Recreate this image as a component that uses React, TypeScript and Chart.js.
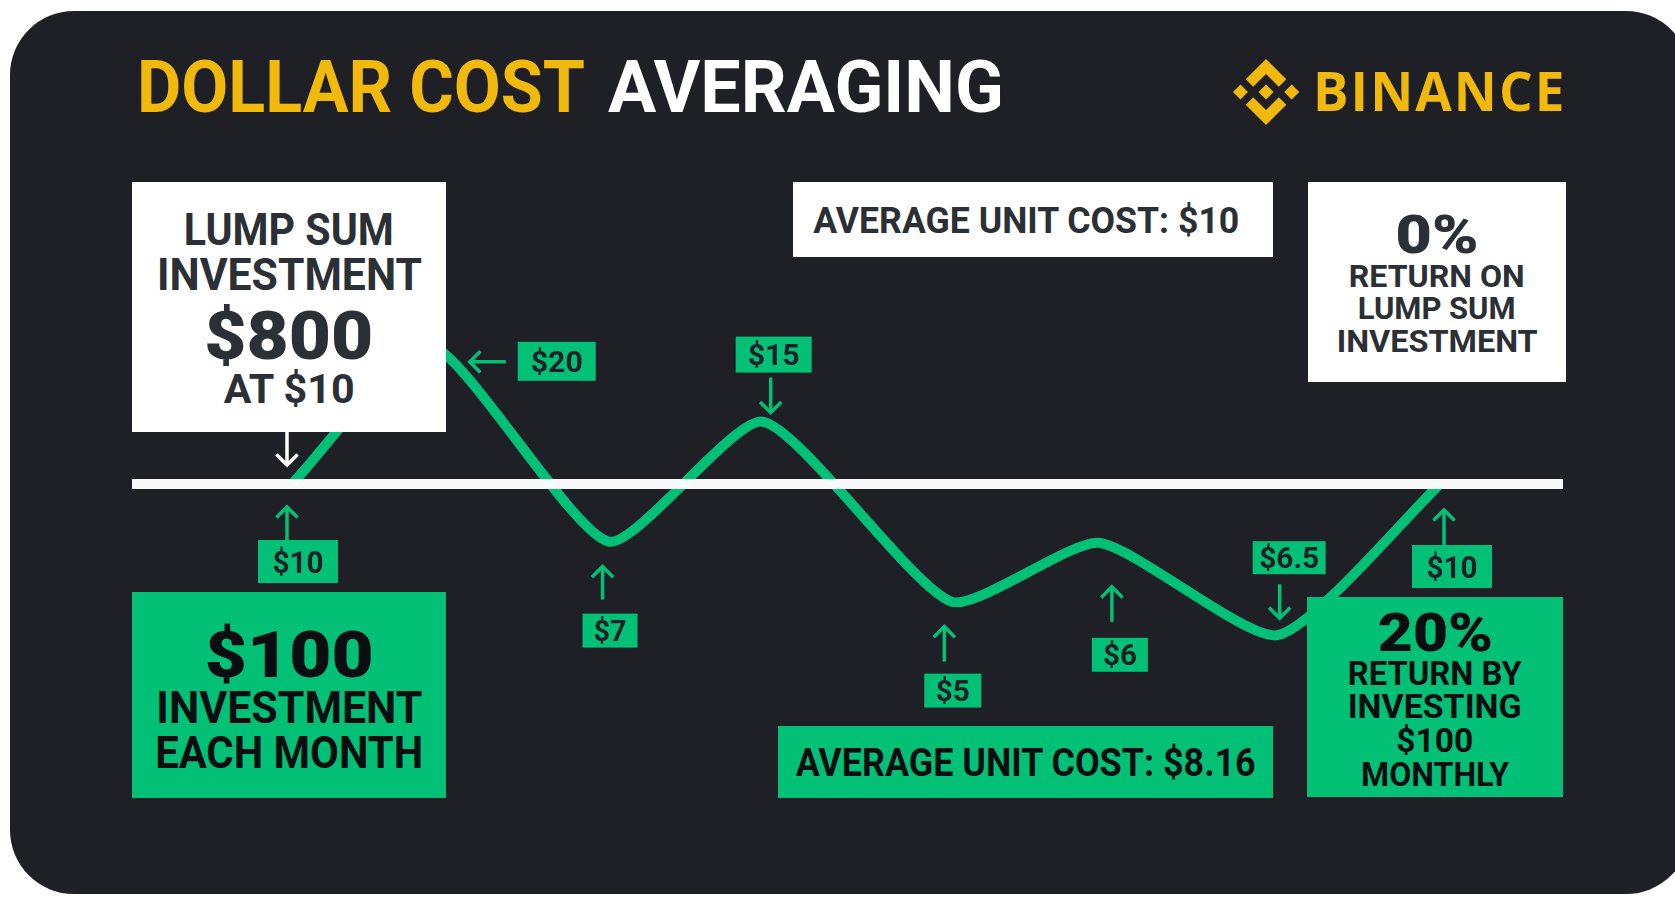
import React, { useEffect, useRef } from 'react';
import { Chart, registerables } from 'chart.js';

Chart.register(...registerables);

// ---------- data ----------
// horizontal position of each turning point (in months)
const months = [1, 1.84, 2.93, 3.87, 5.02, 5.92, 7.01, 8];
// drawn height of the price path (baseline = 10, the lump-sum price line)
const curveLevel = [10, 21.6, 5.2, 15.2, 0.2, 5.1, -2.6, 10];
// price tags at each point
const priceLabels = ['$10', '$20', '$7', '$15', '$5', '$6', '$6.5', '$10'];
const lumpSumPrice = 10;

const titleYellow = 'DOLLAR COST';
const titleWhite = 'AVERAGING';
const brand = 'BINANCE';
const lumpSumLines = ['LUMP SUM', 'INVESTMENT', '$800', 'AT $10'];
const lumpAvgText = 'AVERAGE UNIT COST: $10';
const lumpReturnLines = ['0%', 'RETURN ON', 'LUMP SUM', 'INVESTMENT'];
const dcaLines = ['$100', 'INVESTMENT', 'EACH MONTH'];
const dcaAvgText = 'AVERAGE UNIT COST: $8.16';
const dcaReturnLines = ['20%', 'RETURN BY', 'INVESTING', '$100', 'MONTHLY'];

// ---------- styles / layout ----------
const W = 1675;
const H = 897;
const BG = '#1f2026';
const GREEN = '#02c076';
const YELLOW = '#f0b90b';
const DARK = '#2b2f36';
const BLACK = '#0b0e11';
const FONT = 'Roboto, "Noto Sans", "DejaVu Sans", sans-serif';

const X_MIN = -0.7805;
const X_MAX = 9.4329;
const Y_MIN = -24.417;
const Y_MAX = 50.333;
const BASE_LEFT = 132;
const BASE_RIGHT = 1563;

// arrow tail/tip and tag centre offsets relative to each point (pixels), tag size, text width
const tagLayout = [
  { tail: [-5, 56], tip: [-5, 23], c: [6, 77.5], w: 80, h: 43, f: 31, tw: 51 },
  { tail: [76, 17], tip: [40, 17], c: [127, 16.5], w: 78, h: 39, f: 30, tw: 52 },
  { tail: [-6, 58], tip: [-6, 25], c: [1.5, 89], w: 55, h: 34, f: 30, tw: 33 },
  { tail: [8, -44], tip: [8, -9], c: [11, -67], w: 76, h: 36, f: 30, tw: 52 },
  { tail: [-7, 60], tip: [-7, 25], c: [1.5, 89], w: 57, h: 34, f: 30, tw: 34 },
  { tail: [13, 79], tip: [13, 44], c: [21, 112], w: 56, h: 34, f: 30, tw: 34 },
  { tail: [2, -51], tip: [2, -17], c: [11.5, -77.5], w: 73, h: 33, f: 30, tw: 60 },
  { tail: [4, 61], tip: [4, 26], c: [12, 82.5], w: 80, h: 43, f: 31, tw: 51 },
];

let measureCtx: CanvasRenderingContext2D | null = null;
function textWidth(text: string, size: number, weight: number, family: string) {
  if (!measureCtx) measureCtx = document.createElement('canvas').getContext('2d');
  if (!measureCtx) return 1;
  measureCtx.font = `${weight} ${size}px ${family}`;
  return measureCtx.measureText(text).width || 1;
}

function drawArrow(ctx: CanvasRenderingContext2D, x1: number, y1: number, x2: number, y2: number, color: string) {
  const ang = Math.atan2(y2 - y1, x2 - x1);
  const head = 15;
  ctx.save();
  ctx.strokeStyle = color;
  ctx.lineWidth = 3.5;
  ctx.lineCap = 'butt';
  ctx.lineJoin = 'miter';
  ctx.beginPath();
  ctx.moveTo(x1, y1);
  ctx.lineTo(x2, y2);
  ctx.stroke();
  ctx.beginPath();
  ctx.moveTo(x2 - head * Math.cos(ang - Math.PI / 4), y2 - head * Math.sin(ang - Math.PI / 4));
  ctx.lineTo(x2, y2);
  ctx.lineTo(x2 - head * Math.cos(ang + Math.PI / 4), y2 - head * Math.sin(ang + Math.PI / 4));
  ctx.stroke();
  ctx.restore();
}

const overlayPlugin = {
  id: 'dcaOverlay',
  afterDatasetsDraw(chart: any) {
    const ctx: CanvasRenderingContext2D = chart.ctx;
    const meta = chart.getDatasetMeta(0);
    const yBase = chart.scales.y.getPixelForValue(lumpSumPrice);
    ctx.save();
    // lump-sum price line
    ctx.fillStyle = 'rgba(255,255,255,0.97)';
    ctx.fillRect(BASE_LEFT, yBase - 5, BASE_RIGHT - BASE_LEFT, 10);
    // white arrow from the lump-sum box down to the first purchase
    const p0 = meta.data[0];
    drawArrow(ctx, p0.x - 5, yBase - 52, p0.x - 5, yBase - 19, '#ffffff');
    meta.data.forEach((pt: any, i: number) => {
      const L = tagLayout[i];
      drawArrow(ctx, pt.x + L.tail[0], pt.y + L.tail[1], pt.x + L.tip[0], pt.y + L.tip[1], GREEN);
      const cx = pt.x + L.c[0];
      const cy = pt.y + L.c[1];
      ctx.fillStyle = GREEN;
      ctx.fillRect(cx - L.w / 2, cy - L.h / 2, L.w, L.h);
      ctx.fillStyle = '#1e2026';
      ctx.font = `700 ${L.f}px ${FONT}`;
      ctx.textAlign = 'center';
      ctx.textBaseline = 'alphabetic';
      const mw = ctx.measureText(priceLabels[i]).width || 1;
      ctx.save();
      ctx.translate(cx, cy + L.f * 0.355);
      ctx.scale(L.tw / mw, 1);
      ctx.fillText(priceLabels[i], 0, 0);
      ctx.restore();
    });
    ctx.restore();
  },
};

function FitText(props: { text: string; size: number; weight: number; width: number; family?: string; origin?: string }) {
  const fam = props.family ?? FONT;
  const k = props.width / textWidth(props.text, props.size, props.weight, fam);
  return (
    <span style={{ display: 'inline-block', transform: `scaleX(${k})`, transformOrigin: props.origin ?? 'center' }}>
      {props.text}
    </span>
  );
}

type LineSpec = { text: string; cy: number; size: number; tw: number; weight?: number; dx?: number };

function Box(props: { x: number; y: number; w: number; h: number; bg: string; color: string; lines: LineSpec[] }) {
  const { x, y, w, h, bg, color, lines } = props;
  return (
    <div style={{ position: 'absolute', left: x, top: y, width: w, height: h, background: bg }}>
      {lines.map((l, i) => (
        <div
          key={i}
          style={{
            position: 'absolute',
            left: l.dx ?? 0,
            width: w,
            top: l.cy - l.size * 0.487,
            height: l.size,
            lineHeight: `${l.size}px`,
            fontSize: l.size,
            fontWeight: l.weight ?? 700,
            fontFamily: FONT,
            color,
            textAlign: 'center',
            whiteSpace: 'nowrap',
          }}
        >
          <FitText text={l.text} size={l.size} weight={l.weight ?? 700} width={l.tw} />
        </div>
      ))}
    </div>
  );
}

function BinanceLogo() {
  return (
    <svg width={66} height={66} viewBox="0 0 126.61 126.61" style={{ position: 'absolute', left: 1233, top: 59 }}>
      <g fill={YELLOW}>
        <path d="m38.73 53.2 24.59-24.58 24.6 24.6 14.3-14.31-38.9-38.91-38.9 38.9z" />
        <path d="m0 63.31 14.3-14.31 14.31 14.31-14.31 14.3z" />
        <path d="m38.73 73.41 24.59 24.59 24.6-24.6 14.31 14.29-38.9 38.91-38.91-38.88-.02-.02z" />
        <path d="m98.28 63.31 14.3-14.31 14.31 14.3-14.31 14.32z" />
        <path d="m77.83 63.3-14.51-14.52-10.73 10.73-1.24 1.23-2.54 2.54 14.51 14.5 14.51-14.47z" />
      </g>
    </svg>
  );
}

export default function App() {
  const canvasRef = useRef<HTMLCanvasElement | null>(null);

  useEffect(() => {
    if (!canvasRef.current) return;
    const chart = new Chart(canvasRef.current, {
      type: 'line',
      data: {
        datasets: [
          {
            data: months.map((m, i) => ({ x: m, y: curveLevel[i] })),
            borderColor: GREEN,
            borderWidth: 10,
            tension: 0.19,
            pointRadius: 0,
            fill: false,
            borderCapStyle: 'butt',
            borderJoinStyle: 'round',
            clip: false,
          } as any,
        ],
      },
      options: {
        responsive: false,
        animation: false,
        events: [],
        layout: { padding: 0 },
        plugins: { legend: { display: false }, tooltip: { enabled: false }, title: { display: false } },
        scales: {
          x: { type: 'linear', display: false, min: X_MIN, max: X_MAX },
          y: { type: 'linear', display: false, min: Y_MIN, max: Y_MAX },
        },
      },
      plugins: [overlayPlugin],
    });
    return () => chart.destroy();
  }, []);

  const titleSize = 72;

  return (
    <div style={{ position: 'absolute', left: 0, top: 0, width: W, height: H, background: '#ffffff', overflow: 'hidden' }}>
      <div style={{ position: 'absolute', left: 10, top: 11, width: 1680, height: 883, background: BG, borderRadius: 64 }} />
      <canvas ref={canvasRef} width={W} height={H} style={{ position: 'absolute', left: 0, top: 0, width: W, height: H }} />
      <div
        style={{
          position: 'absolute',
          left: 137,
          top: 87.5 - titleSize * 0.487,
          fontFamily: FONT,
          fontWeight: 700,
          fontSize: titleSize,
          lineHeight: `${titleSize}px`,
          whiteSpace: 'nowrap',
          color: YELLOW,
        }}
      >
        <FitText text={titleYellow} size={titleSize} weight={700} width={448} origin="left" />
      </div>
      <div
        style={{
          position: 'absolute',
          left: 608,
          top: 87.5 - titleSize * 0.487,
          fontFamily: FONT,
          fontWeight: 700,
          fontSize: titleSize,
          lineHeight: `${titleSize}px`,
          whiteSpace: 'nowrap',
          color: '#ffffff',
        }}
      >
        <FitText text={titleWhite} size={titleSize} weight={700} width={396} origin="left" />
      </div>
      <BinanceLogo />
      <div
        style={{
          position: 'absolute',
          left: 1313,
          top: 92 - 53 * 0.53,
          fontFamily: '"Open Sans", sans-serif',
          fontWeight: 700,
          fontSize: 53,
          lineHeight: '53px',
          letterSpacing: 2,
          color: YELLOW,
          whiteSpace: 'nowrap',
        }}
      >
        {brand}
      </div>
      <Box
        x={132}
        y={182}
        w={314}
        h={250}
        bg="#ffffff"
        color={DARK}
        lines={[
          { text: lumpSumLines[0], cy: 47, size: 45, tw: 210 },
          { text: lumpSumLines[1], cy: 92, size: 45, tw: 265 },
          { text: lumpSumLines[2], cy: 154, size: 67, tw: 169, weight: 900 },
          { text: lumpSumLines[3], cy: 207, size: 41, tw: 132 },
        ]}
      />
      <Box x={793} y={182} w={480} h={75} bg="#ffffff" color={DARK} lines={[{ text: lumpAvgText, cy: 38, size: 37, tw: 427, dx: -7 }]} />
      <Box
        x={1308}
        y={182}
        w={258}
        h={200}
        bg="#ffffff"
        color={DARK}
        lines={[
          { text: lumpReturnLines[0], cy: 53, size: 53, tw: 83, weight: 900 },
          { text: lumpReturnLines[1], cy: 93.5, size: 32, tw: 176 },
          { text: lumpReturnLines[2], cy: 126, size: 32, tw: 158 },
          { text: lumpReturnLines[3], cy: 159, size: 32, tw: 201 },
        ]}
      />
      <Box
        x={132}
        y={592}
        w={314}
        h={206}
        bg={GREEN}
        color={BLACK}
        lines={[
          { text: dcaLines[0], cy: 63, size: 65, tw: 169, weight: 900 },
          { text: dcaLines[1], cy: 115.5, size: 44, tw: 266 },
          { text: dcaLines[2], cy: 160.5, size: 44, tw: 268 },
        ]}
      />
      <Box x={778} y={726} w={495} h={72} bg={GREEN} color={BLACK} lines={[{ text: dcaAvgText, cy: 37, size: 38, tw: 461 }]} />
      <Box
        x={1307}
        y={597}
        w={256}
        h={200}
        bg={GREEN}
        color={BLACK}
        lines={[
          { text: dcaReturnLines[0], cy: 35, size: 54, tw: 115, weight: 900 },
          { text: dcaReturnLines[1], cy: 76.5, size: 33, tw: 174 },
          { text: dcaReturnLines[2], cy: 109, size: 33, tw: 174 },
          { text: dcaReturnLines[3], cy: 143.5, size: 33, tw: 77 },
          { text: dcaReturnLines[4], cy: 177, size: 33, tw: 148 },
        ]}
      />
    </div>
  );
}
